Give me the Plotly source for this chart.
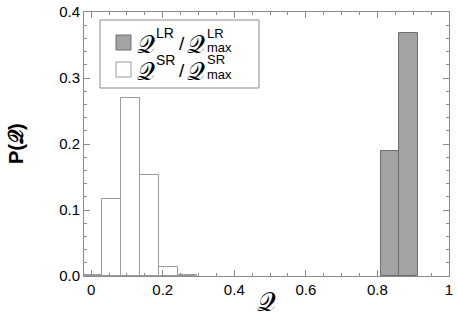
import plotly.graph_objects as go

# histogram bins (centers) and probabilities
sr_centers = [0.004, 0.057, 0.110, 0.163, 0.216, 0.269]
sr_values = [0.002, 0.117, 0.270, 0.153, 0.013, 0.002]
lr_centers = [0.836, 0.888]
lr_values = [0.189, 0.368]
bin_width = 0.053

x_ticks = [0, 0.2, 0.4, 0.6, 0.8, 1.0]
x_labels = ['0', '0.2', '0.4', '0.6', '0.8', '1']
y_ticks = [0.0, 0.1, 0.2, 0.3, 0.4]
y_labels = ['0.0', '0.1', '0.2', '0.3', '0.4']

Q = '\U0001D4AC'
AX = '#8a8a8a'
LR_FILL, LR_EDGE = '#a3a3a3', '#6e6e6e'
SR_FILL, SR_EDGE = 'white', '#9a9a9a'

W, H = 457, 324
L, R, T, B = 84, 8, 12, 48


def px(x):
    return (x - L) / (W - L - R)


def py(y):
    return (H - B - y) / (H - T - B)


fig = go.Figure()
fig.add_trace(go.Bar(
    x=lr_centers, y=lr_values, width=bin_width,
    marker=dict(color=LR_FILL, line=dict(color=LR_EDGE, width=1)),
    showlegend=False,
))
fig.add_trace(go.Bar(
    x=sr_centers, y=sr_values, width=bin_width,
    marker=dict(color=SR_FILL, line=dict(color=SR_EDGE, width=1)),
    showlegend=False,
))

axis_common = dict(
    showline=True, linecolor=AX, linewidth=1, mirror='allticks',
    ticks='inside', ticklen=6, tickcolor=AX, showgrid=False, zeroline=False,
    automargin=False,
    tickfont=dict(family='Liberation Sans, Arial', size=15, color='black'),
)

# hand-made legend with stacked super/subscripts
shapes = [dict(type='rect', xref='paper', yref='paper',
               x0=px(100), x1=px(259), y0=py(88), y1=py(20),
               line=dict(color=AX, width=1), fillcolor='white', layer='above')]
annotations = []


def txt(x, y, s, size, anchor='left'):
    annotations.append(dict(xref='paper', yref='paper', x=px(x), y=py(y),
                            text=s, showarrow=False, xanchor=anchor,
                            yanchor='middle', font=dict(size=size, color='black')))


for row_y, fill, edge, tag in [(42, LR_FILL, LR_EDGE, 'LR'), (69, SR_FILL, SR_EDGE, 'SR')]:
    shapes.append(dict(type='rect', xref='paper', yref='paper',
                       x0=px(116), x1=px(131), y0=py(row_y + 8), y1=py(row_y - 7),
                       line=dict(color=edge, width=1), fillcolor=fill, layer='above'))
    txt(135, row_y + 2, Q, 25)
    txt(154, row_y - 9, tag, 14)
    txt(177, row_y + 1, '/', 19)
    txt(185, row_y + 2, Q, 25)
    txt(205, row_y - 9, tag, 13)
    txt(205, row_y + 5, 'max', 13)

txt(266, 302, Q, 26, 'center')
annotations.append(dict(xref='paper', yref='paper', x=px(16), y=0.5,
                        text=f'<b>P({Q})</b>', showarrow=False, textangle=-90,
                        xanchor='center', yanchor='middle',
                        font=dict(size=20, color='black')))

fig.update_layout(
    width=W, height=H,
    margin=dict(l=L, r=R, t=T, b=B),
    paper_bgcolor='white', plot_bgcolor='white',
    barmode='overlay', bargap=0,
    font=dict(family='Liberation Sans, Arial', color='black'),
    xaxis=dict(
        range=[-0.02, 1.0], tickvals=x_ticks, ticktext=x_labels,
        minor=dict(dtick=0.05, ticks='inside', ticklen=3, tickcolor=AX),
        **axis_common,
    ),
    yaxis=dict(
        range=[0, 0.4], tickvals=y_ticks, ticktext=y_labels,
        minor=dict(dtick=0.02, ticks='inside', ticklen=3, tickcolor=AX),
        **axis_common,
    ),
    shapes=shapes,
    annotations=annotations,
)

fig.write_html("out.html", config={'displayModeBar': False},
               post_script="document.body.style.margin='0px';")
